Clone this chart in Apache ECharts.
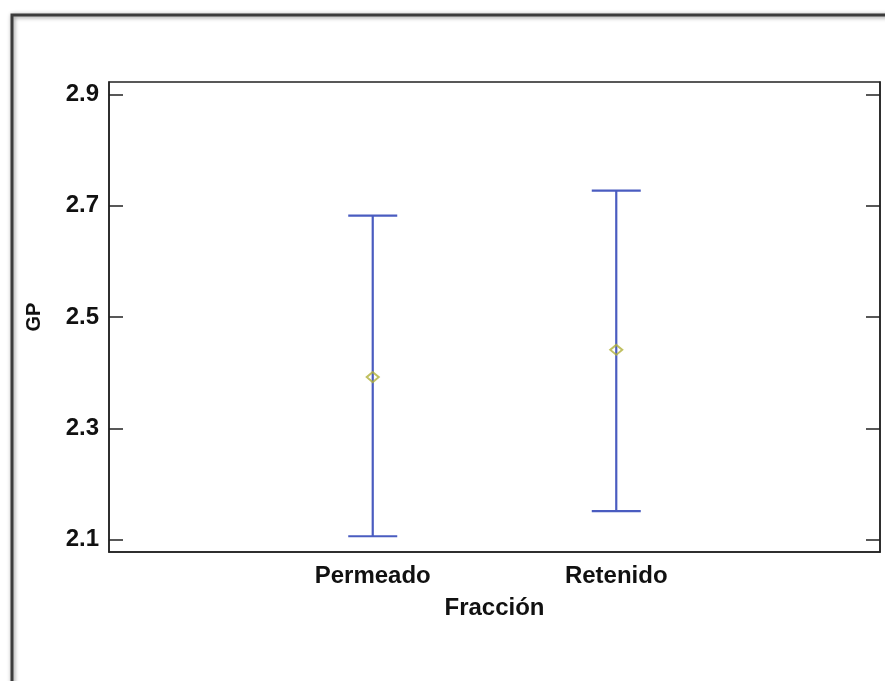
<!DOCTYPE html>
<html>
<head>
<meta charset="utf-8">
<script src="https://cdn.jsdelivr.net/npm/echarts@6/dist/echarts.min.js"></script>
<style>html,body{margin:0;padding:0;background:#fff;}#c{width:885px;height:681px;}</style>
</head>
<body>
<div id="c"></div>
<script>
const categories = ['Permeado', 'Retenido'];
const means = [2.392, 2.441];
const lower = [2.106, 2.151];
const upper = [2.682, 2.727];
const yTicks = [2.1, 2.3, 2.5, 2.7, 2.9];
const xTitle = 'Fracción';
const yTitle = 'GP';

const FONT = '"Liberation Sans", Arial, sans-serif';
const chart = echarts.init(document.getElementById('c'), null, {renderer: 'canvas'});

const errData = categories.map((c, i) => [i, lower[i], upper[i], means[i]]);
const meanData = categories.map((c, i) => [i, means[i]]);

const option = {
  backgroundColor: '#fff',
  animation: false,
  graphic: [{
    type: 'rect',
    shape: {x: 12, y: 15, width: 920, height: 720},
    style: {fill: 'none', stroke: '#3c3c3c', lineWidth: 3, shadowBlur: 4, shadowColor: 'rgba(0,0,0,0.45)', shadowOffsetX: 1, shadowOffsetY: 1},
    z: 0
  }],
  grid: {left: 109, right: 5, top: 82, bottom: 129, show: true, borderColor: '#222', borderWidth: 1.5, backgroundColor: 'transparent'},
  xAxis: {
    type: 'value', min: -1.083, max: 2.083,
    name: xTitle, nameLocation: 'middle', nameGap: 44,
    nameTextStyle: {fontFamily: FONT, fontWeight: 'bold', fontSize: 24, color: '#111'},
    axisLine: {show: true, onZero: false, lineStyle: {color: '#222', width: 1.5}},
    axisTick: {show: false},
    splitLine: {show: false},
    axisLabel: {
      customValues: [0, 1],
      formatter: v => categories[Math.round(v)] || '',
      fontFamily: FONT, fontWeight: 'bold', fontSize: 24, color: '#111', margin: 12
    }
  },
  yAxis: [{
    type: 'value', min: 2.0777, max: 2.9223, position: 'left',
    name: yTitle, nameLocation: 'middle', nameGap: 65, nameRotate: 90,
    nameTextStyle: {fontFamily: FONT, fontWeight: 'bold', fontSize: 20, color: '#111'},
    axisLine: {show: true, onZero: false, lineStyle: {color: '#222', width: 1.5}},
    axisTick: {show: true, inside: true, length: 14, customValues: yTicks, lineStyle: {color: '#222', width: 1.5}},
    splitLine: {show: false},
    axisLabel: {customValues: yTicks, formatter: v => v.toFixed(1), fontFamily: FONT, fontWeight: 'bold', fontSize: 24, color: '#111', margin: 10}
  }, {
    type: 'value', min: 2.0777, max: 2.9223, position: 'right',
    axisLine: {show: true, onZero: false, lineStyle: {color: '#222', width: 1.5}},
    axisTick: {show: true, inside: true, length: 14, customValues: yTicks, lineStyle: {color: '#222', width: 1.5}},
    splitLine: {show: false},
    axisLabel: {show: false}
  }],
  series: [{
    type: 'custom',
    data: errData,
    encode: {x: 0, y: [1, 2]},
    renderItem: function (params, api) {
      const x = api.value(0);
      const lo = api.coord([x, api.value(1)]);
      const hi = api.coord([x, api.value(2)]);
      const hw = 24.5;
      const st = {stroke: '#4a5cc0', lineWidth: 2.2};
      return {
        type: 'group',
        children: [
          {type: 'line', shape: {x1: lo[0], y1: lo[1], x2: hi[0], y2: hi[1]}, style: st},
          {type: 'line', shape: {x1: lo[0] - hw, y1: lo[1], x2: lo[0] + hw, y2: lo[1]}, style: st},
          {type: 'line', shape: {x1: hi[0] - hw, y1: hi[1], x2: hi[0] + hw, y2: hi[1]}, style: st}
        ]
      };
    },
    z: 2
  }, {
    type: 'scatter',
    data: meanData,
    symbol: 'diamond',
    symbolSize: [12, 10],
    itemStyle: {color: 'transparent', borderColor: '#b0b03a', borderWidth: 2},
    z: 3
  }]
};
chart.setOption(option);
</script>
</body>
</html>
